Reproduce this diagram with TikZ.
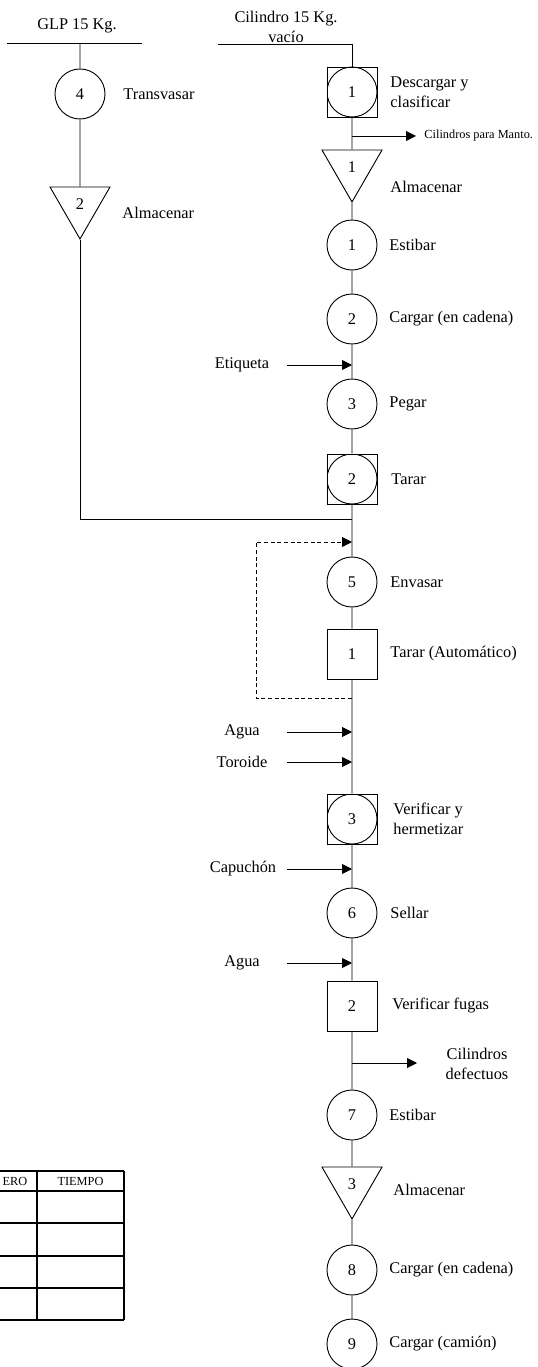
\documentclass[tikz,border=0pt]{standalone}
\usepackage{fontspec}
\setmainfont{Liberation Serif}
\usetikzlibrary{
  arrows.meta,
  shapes.geometric
}
\colorlet{flowline}{black}

\begin{document}
\begin{tikzpicture}[
  x=0.6pt,
  y=-0.6pt,
  line width=0.55pt,
  every node/.style={
    font=\fontsize{9.8}{12}\selectfont,
  },
  operation/.style={
    circle,
    draw=flowline,
    minimum size=30pt,
    inner sep=0pt,
  },
  inspection/.style={
    rectangle,
    draw=flowline,
    minimum size=30pt,
    inner sep=0pt,
  },
  combined/.style={
    inspection,
    path picture={\draw (path picture bounding box.center) circle (15pt);},
  },
  storage/.style={
    regular polygon,
    regular polygon sides=3,
    shape border rotate=180,
    draw=flowline,
    minimum size=41.6pt,
    inner sep=0pt,
  },
  desc/.style={
    anchor=west,
    inner sep=0pt,
    align=left,
  },
  feedlabel/.style={
    inner sep=0pt,
  },
  note/.style={
    font=\fontsize{7.4}{9}\selectfont,
    inner sep=0pt,
    align=center,
  },
  feed/.style={
    -{Triangle[length=6pt,width=6pt]},
  },
]
\clip (0,0) rectangle (537,1367);

% entradas
\node[feedlabel] (glp) at (77,26) {GLP 15 Kg.};
\node[feedlabel,align=center] (cil) at (286,27) {Cilindro 15 Kg.\\vacío};
\coordinate (glp-l) at (7,43);
\coordinate (glp-r) at (142,43);
\coordinate (glp-top) at (80,43);
\coordinate (cil-in) at (218,44);

% linea del GLP
\node[operation] (op4) at (80,94) {4};
\node[desc] (op4-t) at (123,94) {Transvasar};
\node[storage] (al2) at (80,204.3) {2};
\node[desc] (al2-t) at (122,213) {Almacenar};
\coordinate (join) at (352,519);

% linea principal
\node[combined] (oi1) at (352,92) {1};
\node[desc] (oi1-t) at (390,92) {Descargar y\\clasificar};
\node[storage] (al1) at (352,167.3) {1};
\node[desc] (al1-t) at (390,187) {Almacenar};
\node[operation] (op1) at (352,245) {1};
\node[desc] (op1-t) at (389,245) {Estibar};
\node[operation] (op2) at (352,319) {2};
\node[desc] (op2-t) at (389,319) {Cargar (en cadena)};
\node[operation] (op3) at (352,404) {3};
\node[desc] (op3-t) at (389,404) {Pegar};
\node[combined] (oi2) at (352,479) {2};
\node[desc] (oi2-t) at (391,479) {Tarar};
\node[operation] (op5) at (352,582) {5};
\node[desc] (op5-t) at (390,582) {Envasar};
\node[inspection] (in1) at (352,654) {1};
\node[desc] (in1-t) at (390,654) {Tarar (Automático)};
\node[combined] (oi3) at (352,819) {3};
\node[desc] (oi3-t) at (393,819) {Verificar y\\hermetizar};
\node[operation] (op6) at (352,913) {6};
\node[desc] (op6-t) at (390,913) {Sellar};
\node[inspection] (in2) at (352,1006) {2};
\node[desc] (in2-t) at (392,1006) {Verificar fugas};
\node[operation] (op7) at (352,1115) {7};
\node[desc] (op7-t) at (389,1115) {Estibar};
\node[storage] (al3) at (352,1184.3) {3};
\node[desc] (al3-t) at (393,1190) {Almacenar};
\node[operation] (op8) at (352,1270) {8};
\node[desc] (op8-t) at (389,1270) {Cargar (en cadena)};
\node[operation] (op9) at (352,1344) {9};
\node[desc] (op9-t) at (389,1344) {Cargar (camión)};

\draw (glp-l) -- (glp-r);
\draw (glp-top) -- (op4) -- (al2);
\draw (al2) |- (join);
\draw (cil-in) -| (oi1);
\draw (oi1) -- (al1) -- (op1) -- (op2) -- (op3) -- (oi2) -- (op5) -- (in1)
  -- (oi3) -- (op6) -- (in2) -- (op7) -- (al3) -- (op8) -- (op9);

% salidas
\coordinate (mant-a) at (352,136);
\coordinate (mant-b) at (416,136);
\draw[feed] (mant-a) -- (mant-b);
\node[note,anchor=west] (mant) at (424,136) {Cilindros para Manto.};
\coordinate (def-a) at (352,1063);
\coordinate (def-b) at (417,1063);
\draw[feed] (def-a) -- (def-b);
\node[feedlabel,align=center] (def) at (477,1064) {Cilindros\\defectuos};

% materiales que entran
\coordinate (etq-a) at (287,365);
\coordinate (etq-b) at (352,365);
\node[feedlabel] (etq) at (242,365) {Etiqueta};
\draw[feed] (etq-a) -- (etq-b);
\coordinate (agua1-a) at (287,732);
\coordinate (agua1-b) at (352,732);
\node[feedlabel] (agua1) at (242,732) {Agua};
\draw[feed] (agua1-a) -- (agua1-b);
\coordinate (tor-a) at (287,762);
\coordinate (tor-b) at (352,762);
\node[feedlabel] (tor) at (242,762) {Toroide};
\draw[feed] (tor-a) -- (tor-b);
\coordinate (cap-a) at (287,869);
\coordinate (cap-b) at (352,869);
\node[feedlabel] (cap) at (243,869) {Capuchón};
\draw[feed] (cap-a) -- (cap-b);
\coordinate (agua2-a) at (287,963);
\coordinate (agua2-b) at (352,963);
\node[feedlabel] (agua2) at (242,963) {Agua};
\draw[feed] (agua2-a) -- (agua2-b);

% retorno del tarado
\coordinate (ret-in) at (352,542);
\coordinate (ret-tl) at (256,542);
\coordinate (ret-bl) at (256,698);
\coordinate (ret-out) at (352,698);
\draw[feed,dash pattern=on 2.4pt off 1.6pt] (ret-out) -- (ret-bl) -- (ret-tl) -- (ret-in);

% tabla
\begin{scope}[line width=0.8pt]
\foreach \y in {1171,1191,1223,1256,1288,1320}
  \draw (-50,\y) -- (124,\y);
\foreach \x in {-50,37,124}
  \draw (\x,1171) -- (\x,1320);
\node[note,anchor=west] (col-num) at (2,1181) {ERO};
\node[note] (col-tiempo) at (80.5,1181) {TIEMPO};
\end{scope}
\end{tikzpicture}
\end{document}
